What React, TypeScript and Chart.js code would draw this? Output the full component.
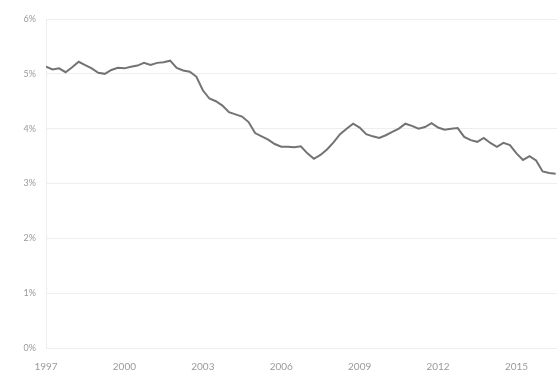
import React, { useEffect, useRef } from "react";
import { Chart, registerables } from "chart.js";

Chart.register(...registerables);

const years: number[] = [
  1997.0, 1997.25, 1997.5, 1997.75, 1998.0, 1998.25, 1998.5, 1998.75,
  1999.0, 1999.25, 1999.5, 1999.75, 2000.0, 2000.25, 2000.5, 2000.75,
  2001.0, 2001.25, 2001.5, 2001.75, 2002.0, 2002.25, 2002.5, 2002.75,
  2003.0, 2003.25, 2003.5, 2003.75, 2004.0, 2004.25, 2004.5, 2004.75,
  2005.0, 2005.25, 2005.5, 2005.75, 2006.0, 2006.25, 2006.5, 2006.75,
  2007.0, 2007.25, 2007.5, 2007.75, 2008.0, 2008.25, 2008.5, 2008.75,
  2009.0, 2009.25, 2009.5, 2009.75, 2010.0, 2010.25, 2010.5, 2010.75,
  2011.0, 2011.25, 2011.5, 2011.75, 2012.0, 2012.25, 2012.5, 2012.75,
  2013.0, 2013.25, 2013.5, 2013.75, 2014.0, 2014.25, 2014.5, 2014.75,
  2015.0, 2015.25, 2015.5, 2015.75, 2016.0, 2016.25, 2016.5,
];

const rates: number[] = [
  5.13, 5.08, 5.1, 5.03, 5.12, 5.22, 5.16, 5.1,
  5.02, 5.0, 5.07, 5.11, 5.1, 5.13, 5.15, 5.2,
  5.16, 5.2, 5.21, 5.24, 5.11, 5.06, 5.04, 4.95,
  4.7, 4.55, 4.5, 4.42, 4.3, 4.26, 4.22, 4.12,
  3.92, 3.86, 3.8, 3.72, 3.67, 3.67, 3.66, 3.68,
  3.55, 3.45, 3.52, 3.62, 3.75, 3.9, 4.0, 4.09,
  4.02, 3.9, 3.86, 3.83, 3.88, 3.94, 4.0, 4.09,
  4.05, 4.0, 4.03, 4.1, 4.02, 3.98, 4.0, 4.01,
  3.85, 3.79, 3.76, 3.83, 3.74, 3.67, 3.74, 3.7,
  3.55, 3.43, 3.5, 3.42, 3.22, 3.19, 3.18,
];

const yTicks: number[] = [0, 1, 2, 3, 4, 5, 6];
const xTickYears: number[] = [1997, 2000, 2003, 2006, 2009, 2012, 2015];

export default function App() {
  const ref = useRef<HTMLCanvasElement | null>(null);

  useEffect(() => {
    if (!ref.current) return;
    const chart = new Chart(ref.current, {
      type: "line",
      data: {
        datasets: [
          {
            data: years.map((y, i) => ({ x: y, y: rates[i] })),
            borderColor: "#737373",
            borderWidth: 2,
            pointRadius: 0,
            tension: 0,
            fill: false,
          },
        ],
      },
      options: {
        animation: false,
        responsive: false,
        maintainAspectRatio: false,
        layout: { padding: { top: 19, right: 2, left: 0, bottom: 0 } },
        plugins: { legend: { display: false }, tooltip: { enabled: false } },
        scales: {
          x: {
            type: "linear",
            min: 1997,
            max: 2016.55,
            afterBuildTicks: (s: any) => {
              s.ticks = xTickYears.map((v) => ({ value: v }));
            },
            afterFit: (s: any) => {
              s.height = 23;
            },
            grid: { display: false },
            border: { display: false },
            ticks: {
              color: "#9a9a9a",
              font: { family: "Lato", size: 10 },
              padding: 5,
              maxRotation: 0,
              autoSkip: false,
              callback: (v: any) => String(v),
            },
          },
          y: {
            min: 0,
            max: 6,
            afterBuildTicks: (s: any) => {
              s.ticks = yTicks.map((v) => ({ value: v }));
            },
            afterFit: (s: any) => {
              s.width = 46;
            },
            grid: { color: "#eeeeee", drawTicks: false },
            border: { display: true, color: "#eeeeee" },
            ticks: {
              color: "#9a9a9a",
              font: { family: "Lato", size: 9 },
              padding: 10,
              callback: (v: any) => v + "%",
            },
          },
        },
      },
    });
    return () => chart.destroy();
  }, []);

  return (
    <div style={{ position: "fixed", left: 0, top: 0, width: 559, height: 371, background: "#fff" }}>
      <canvas ref={ref} width={559} height={371} style={{ width: 559, height: 371 }} />
    </div>
  );
}
